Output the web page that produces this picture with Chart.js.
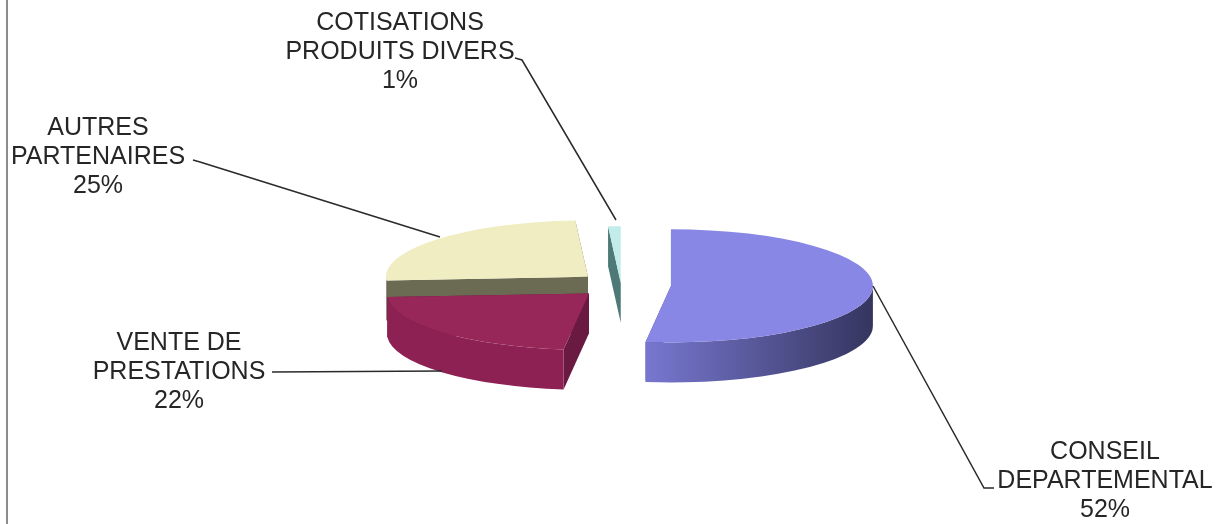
<!DOCTYPE html>
<html>
<head>
<meta charset="utf-8">
<script src="https://cdn.jsdelivr.net/npm/chart.js@4/dist/chart.umd.min.js"></script>
<style>
  html, body { margin: 0; padding: 0; background: #fff; }
  #wrap { width: 1223px; height: 524px; }
</style>
</head>
<body>
<div id="wrap"><canvas id="pieChart" width="1223" height="524"></canvas></div>
<script>
// ---- data (clockwise from 12 o'clock) ----
const categories = ['CONSEIL DEPARTEMENTAL', 'VENTE DE PRESTATIONS', 'AUTRES PARTENAIRES', 'COTISATIONS PRODUITS DIVERS'];
const labelLines = [['CONSEIL', 'DEPARTEMENTAL'], ['VENTE DE', 'PRESTATIONS'], ['AUTRES', 'PARTENAIRES'], ['COTISATIONS', 'PRODUITS DIVERS']];
const shares = [52, 22, 25, 1];

// ---- styling ----
const topColors = ['#8887E6', '#972659', '#EFEDC1', '#C2ECEA'];
const wallLight = ['#7676CE', '#8E2154', '#6E6D55', '#5C8C88'];
const wallDark = ['#35355F', '#6F1A42', '#5E5D48', '#44706C'];
const cutColors = ['#4A4A85', '#6A1940', '#6B6A52', '#4D7A76'];
const explode = [50, 44, 44, 8];

const SQUISH = 0.28;    // vertical flattening of the pie
const DEPTH = 40;       // thickness of the pie

// label text anchor (centre of the block) and leader line points
const labelBoxes = [
  { x: 1105, y: 452, line: [[873, 286], [984, 488], [994, 488]] },
  { x: 179, y: 343, line: [[272, 372], [442, 371]] },
  { x: 98, y: 128, line: [[193, 160], [200, 162], [440, 237]] },
  { x: 400, y: 23, line: [[515, 58], [522, 60], [616, 220]] }
];

const pie3d = {
  id: 'pie3d',
  beforeDatasetsDraw(chart) {
    const ctx = chart.ctx;
    const meta = chart.getDatasetMeta(0);
    const order = meta.data.map((arc, i) => i).sort((a, b) => {
      const ma = (meta.data[a].startAngle + meta.data[a].endAngle) / 2;
      const mb = (meta.data[b].startAngle + meta.data[b].endAngle) / 2;
      return Math.sin(ma) - Math.sin(mb);
    });

    order.forEach(i => {
      const arc = meta.data[i];
      const { x, y, startAngle: s, endAngle: e, outerRadius: r } =
        arc.getProps(['x', 'y', 'startAngle', 'endAngle', 'outerRadius'], true);
      const mid = (s + e) / 2;
      const cx = x + Math.cos(mid) * explode[i];
      const cy = y + Math.sin(mid) * explode[i] * SQUISH;
      const ry = r * SQUISH;
      const pt = (a, d) => [cx + Math.cos(a) * r, cy + Math.sin(a) * ry + (d || 0)];

      ctx.save();
      // radial cut faces
      [s, e].forEach(a => {
        const p = pt(a);
        ctx.beginPath();
        ctx.moveTo(cx, cy);
        ctx.lineTo(p[0], p[1]);
        ctx.lineTo(p[0], p[1] + DEPTH);
        ctx.lineTo(cx, cy + DEPTH);
        ctx.closePath();
        ctx.fillStyle = cutColors[i];
        ctx.fill();
      });

      // outer wall, front half only
      const a1 = Math.max(s, 0), a2 = Math.min(e, Math.PI);
      if (a2 > a1) {
        const g = ctx.createLinearGradient(cx - r, 0, cx + r, 0);
        g.addColorStop(0, wallLight[i]);
        g.addColorStop(0.45, wallLight[i]);
        g.addColorStop(1, wallDark[i]);
        ctx.beginPath();
        ctx.ellipse(cx, cy, r, ry, 0, a1, a2);
        ctx.ellipse(cx, cy + DEPTH, r, ry, 0, a2, a1, true);
        ctx.closePath();
        ctx.fillStyle = g;
        ctx.fill();
      }

      // top face
      ctx.beginPath();
      ctx.moveTo(cx, cy);
      ctx.ellipse(cx, cy, r, ry, 0, s, e);
      ctx.closePath();
      ctx.fillStyle = topColors[i];
      ctx.fill();
      ctx.restore();
    });
    return false; // skip the flat pie
  },
  afterDraw(chart) {
    const ctx = chart.ctx;
    ctx.save();
    // frame line on the left
    ctx.fillStyle = '#8c8c8c';
    ctx.fillRect(6, 0, 2, 524);

    ctx.font = '25px "Liberation Sans", Arial, sans-serif';
    ctx.textAlign = 'center';
    ctx.textBaseline = 'middle';
    ctx.fillStyle = '#262626';
    labelBoxes.forEach((box, i) => {
      const lines = labelLines[i].concat([shares[i] + '%']);
      lines.forEach((t, k) => ctx.fillText(t, box.x, box.y + k * 29));

      ctx.beginPath();
      box.line.forEach(([px, py], k) => k ? ctx.lineTo(px, py) : ctx.moveTo(px, py));
      ctx.strokeStyle = '#2a2a2a';
      ctx.lineWidth = 1.5;
      ctx.stroke();
    });
    ctx.restore();
  }
};

new Chart(document.getElementById('pieChart'), {
  type: 'pie',
  data: {
    labels: categories,
    datasets: [{
      data: shares,
      backgroundColor: topColors,
      borderWidth: 0
    }]
  },
  options: {
    responsive: false,
    animation: false,
    radius: 202,
    layout: { padding: { left: 19, top: 46, right: 0, bottom: 0 } },
    plugins: {
      legend: { display: false },
      tooltip: { enabled: false }
    }
  },
  plugins: [pie3d]
});
</script>
</body>
</html>
